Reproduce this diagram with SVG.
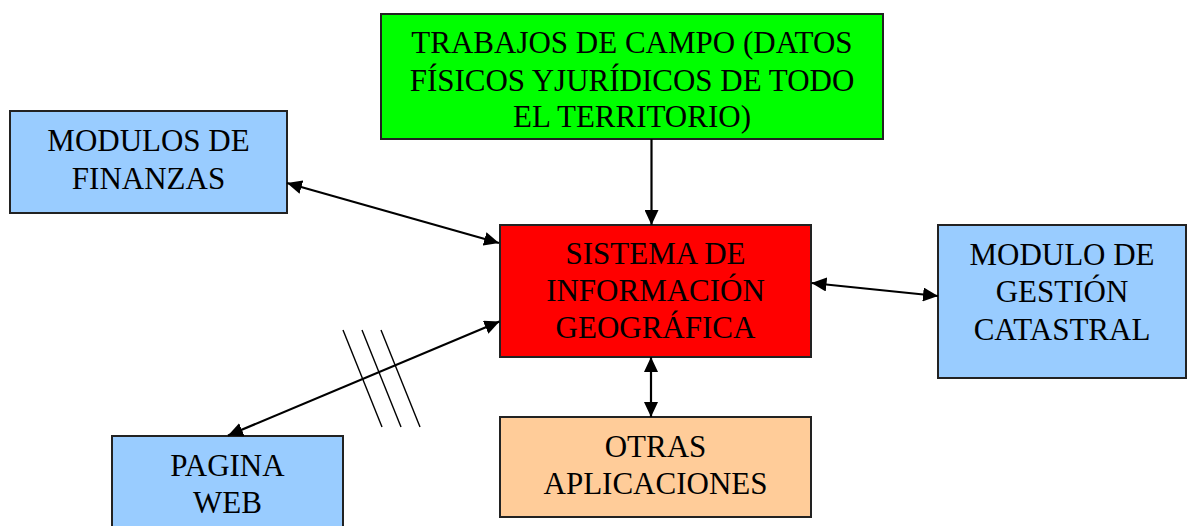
<svg xmlns="http://www.w3.org/2000/svg" width="1187" height="526" viewBox="0 0 1187 526">
<style>
.box{stroke:#222;stroke-width:2}
.t{font-family:"Liberation Serif","Times New Roman",serif;font-size:31px;fill:#000;text-anchor:middle}
.c{stroke:#000;stroke-width:2.2;fill:none}
.s{stroke:#000;stroke-width:1.4;fill:none}
</style>
<defs>
<marker id="ah" markerUnits="userSpaceOnUse" markerWidth="16" markerHeight="14" refX="15" refY="7" orient="auto-start-reverse">
<path d="M0,0 L15,7 L0,14 z" fill="#000"/>
</marker>
</defs>
<rect width="1187" height="526" fill="#fff"/>
<g id="campo">
<rect class="box" x="381" y="14" width="502" height="125" fill="#00ff00"/>
<text class="t" x="632" y="53">TRABAJOS DE CAMPO (DATOS</text>
<text class="t" x="632" y="90.5">FÍSICOS YJURÍDICOS DE TODO</text>
<text class="t" x="632" y="127">EL TERRITORIO)</text>
</g>
<g id="finanzas">
<rect class="box" x="10" y="111" width="277" height="102" fill="#99ccff"/>
<text class="t" x="148.5" y="151">MODULOS DE</text>
<text class="t" x="148.5" y="189">FINANZAS</text>
</g>
<g id="sig">
<rect class="box" x="500" y="225" width="311" height="132" fill="#ff0000"/>
<text class="t" x="655.5" y="264">SISTEMA DE</text>
<text class="t" x="655.5" y="301">INFORMACIÓN</text>
<text class="t" x="655.5" y="338">GEOGRÁFICA</text>
</g>
<g id="catastral">
<rect class="box" x="938" y="225" width="248" height="153" fill="#99ccff"/>
<text class="t" x="1062" y="265">MODULO DE</text>
<text class="t" x="1062" y="302">GESTIÓN</text>
<text class="t" x="1062" y="340">CATASTRAL</text>
</g>
<g id="otras">
<rect class="box" x="500" y="417" width="311" height="100" fill="#ffcc99"/>
<text class="t" x="655.5" y="456.5">OTRAS</text>
<text class="t" x="655.5" y="494">APLICACIONES</text>
</g>
<g id="web">
<rect class="box" x="112" y="436" width="231" height="100" fill="#99ccff"/>
<text class="t" x="227.5" y="476">PAGINA</text>
<text class="t" x="227.5" y="513">WEB</text>
</g>
<g id="connectors">
<line class="c" x1="651.5" y1="139" x2="651.5" y2="225" marker-end="url(#ah)"/>
<line class="c" x1="287" y1="183" x2="499" y2="243" marker-start="url(#ah)" marker-end="url(#ah)"/>
<line class="c" x1="811.5" y1="283" x2="938" y2="296" marker-start="url(#ah)" marker-end="url(#ah)"/>
<line class="c" x1="651" y1="357" x2="651" y2="417" marker-start="url(#ah)" marker-end="url(#ah)"/>
<line class="c" x1="228" y1="435.5" x2="499.5" y2="321.5" marker-start="url(#ah)" marker-end="url(#ah)"/>
<line class="s" x1="343" y1="330" x2="382" y2="427"/>
<line class="s" x1="362" y1="330" x2="401" y2="427"/>
<line class="s" x1="381" y1="330" x2="420" y2="427"/>
</g>
</svg>
